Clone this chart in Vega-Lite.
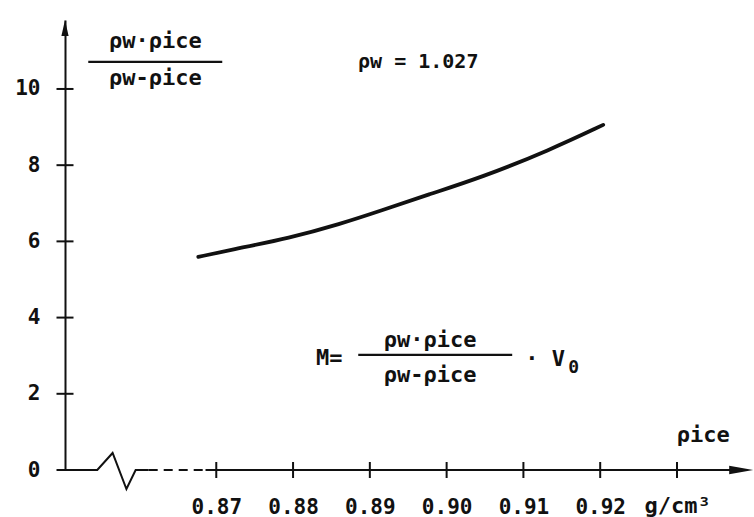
{
  "$schema": "https://vega.github.io/schema/vega-lite/v6.json",
  "width": 688,
  "height": 450,
  "autosize": {"type": "none"},
  "padding": {"left": 65, "top": 20, "right": 1, "bottom": 47},
  "background": "white",
  "config": {"view": {"stroke": null}, "font": "DejaVu Sans Mono"},
  "datasets": {
    "curve": [
      {"rho": 0.86766, "ratio": 5.592},
      {"rho": 0.87182, "ratio": 5.776},
      {"rho": 0.87964, "ratio": 6.091},
      {"rho": 0.88615, "ratio": 6.458},
      {"rho": 0.89135, "ratio": 6.800},
      {"rho": 0.89786, "ratio": 7.246},
      {"rho": 0.90438, "ratio": 7.666},
      {"rho": 0.91349, "ratio": 8.401},
      {"rho": 0.92039, "ratio": 9.057}
    ],
    "axisSolid": [
      {"x": 0.8503, "y": 0, "seg": "a"},
      {"x": 0.8545, "y": 0, "seg": "a"},
      {"x": 0.8565, "y": 0.447, "seg": "a"},
      {"x": 0.8583, "y": -0.5, "seg": "a"},
      {"x": 0.8595, "y": 0, "seg": "a"},
      {"x": 0.8612, "y": 0, "seg": "a"},
      {"x": 0.8686, "y": 0, "seg": "b"},
      {"x": 0.9385, "y": 0, "seg": "b"}
    ],
    "axisDash": [
      {"x": 0.8612, "y": 0},
      {"x": 0.8686, "y": 0}
    ],
    "xticks": [
      {"v": 0.87}, {"v": 0.88}, {"v": 0.89}, {"v": 0.90}, {"v": 0.91}, {"v": 0.92}, {"v": 0.93}
    ],
    "yticks": [
      {"v": 0}, {"v": 2}, {"v": 4}, {"v": 6}, {"v": 8}, {"v": 10}
    ]
  },
  "layer": [
    {
      "data": {"name": "curve"},
      "mark": {"type": "line", "interpolate": "basis", "color": "#111", "strokeWidth": 3.8, "strokeCap": "round"},
      "encoding": {
        "x": {
          "field": "rho", "type": "quantitative",
          "scale": {"domain": [0.8503, 0.9399], "nice": false, "zero": false},
          "axis": {
            "values": [0.87, 0.88, 0.89, 0.90, 0.91, 0.92],
            "format": ".2f",
            "domain": false, "ticks": false, "grid": false, "title": null,
            "labelFont": "DejaVu Sans Mono", "labelFontSize": 21, "labelFontWeight": "bold", "labelColor": "#111",
            "labelPadding": 26, "labelFlush": false
          }
        },
        "y": {
          "field": "ratio", "type": "quantitative",
          "scale": {"domain": [0, 11.81], "nice": false, "zero": false},
          "axis": {
            "values": [0, 2, 4, 6, 8, 10],
            "domain": true, "domainColor": "#111", "domainWidth": 2,
            "ticks": false, "grid": false, "title": null,
            "labelFont": "DejaVu Sans Mono", "labelFontSize": 21, "labelFontWeight": "bold", "labelColor": "#111",
            "labelPadding": 25, "labelFlush": false
          }
        }
      }
    },
    {
      "data": {"name": "axisSolid"},
      "mark": {"type": "line", "color": "#111", "strokeWidth": 2},
      "encoding": {
        "x": {"field": "x", "type": "quantitative"},
        "y": {"field": "y", "type": "quantitative"},
        "detail": {"field": "seg"}
      }
    },
    {
      "data": {"name": "axisDash"},
      "mark": {"type": "line", "color": "#111", "strokeWidth": 2, "strokeDash": [9, 6]},
      "encoding": {
        "x": {"field": "x", "type": "quantitative"},
        "y": {"field": "y", "type": "quantitative"}
      }
    },
    {
      "data": {"name": "xticks"},
      "mark": {"type": "tick", "orient": "vertical", "size": 16, "thickness": 2, "color": "#111", "opacity": 1},
      "encoding": {
        "x": {"field": "v", "type": "quantitative"},
        "y": {"datum": 0, "type": "quantitative"}
      }
    },
    {
      "data": {"name": "yticks"},
      "mark": {"type": "tick", "orient": "horizontal", "size": 17, "thickness": 2, "color": "#111", "opacity": 1},
      "encoding": {
        "y": {"field": "v", "type": "quantitative"},
        "x": {"datum": 0.8503, "type": "quantitative"}
      }
    },
    {
      "data": {"values": [{"x": 0.93836, "y": 0}]},
      "mark": {"type": "point", "shape": "M1,0L-1,-0.35L-1,0.35Z", "size": 576, "filled": true, "color": "#111", "opacity": 1},
      "encoding": {
        "x": {"field": "x", "type": "quantitative"},
        "y": {"field": "y", "type": "quantitative"}
      }
    },
    {
      "data": {"values": [{"x": 0.8503, "y": 11.60}]},
      "mark": {"type": "point", "shape": "M0,-1L0.45,1L-0.45,1Z", "size": 256, "filled": true, "color": "#111", "opacity": 1},
      "encoding": {
        "x": {"field": "x", "type": "quantitative"},
        "y": {"field": "y", "type": "quantitative"}
      }
    },
    {
      "data": {"values": [
        {"x1": 0.85333, "x2": 0.87078, "y": 10.71},
        {"x1": 0.88849, "x2": 0.90854, "y": 3.019}
      ]},
      "mark": {"type": "rule", "color": "#111", "strokeWidth": 2.2},
      "encoding": {
        "x": {"field": "x1", "type": "quantitative"},
        "x2": {"field": "x2"},
        "y": {"field": "y", "type": "quantitative"}
      }
    },
    {
      "data": {"values": [
        {"x": 0.86206, "y": 11.08, "label": "ρw·ρice"},
        {"x": 0.86206, "y": 10.108, "label": "ρw-ρice"},
        {"x": 0.89786, "y": 3.229, "label": "ρw·ρice"},
        {"x": 0.89786, "y": 2.310, "label": "ρw-ρice"},
        {"x": 0.93341, "y": 0.735, "label": "ρice"}
      ]},
      "mark": {"type": "text", "font": "DejaVu Sans Mono", "fontSize": 22, "fontWeight": "bold", "align": "center", "baseline": "alphabetic", "color": "#111"},
      "encoding": {
        "x": {"field": "x", "type": "quantitative"},
        "y": {"field": "y", "type": "quantitative"},
        "text": {"field": "label"}
      }
    },
    {
      "data": {"values": [
        {"x": 0.89630, "y": 10.554, "label": "ρw = 1.027"}
      ]},
      "mark": {"type": "text", "font": "DejaVu Sans Mono", "fontSize": 20, "fontWeight": "bold", "align": "center", "baseline": "alphabetic", "color": "#111"},
      "encoding": {
        "x": {"field": "x", "type": "quantitative"},
        "y": {"field": "y", "type": "quantitative"},
        "text": {"field": "label"}
      }
    },
    {
      "data": {"values": [
        {"x": 0.88300, "y": 2.757, "label": "M="},
        {"x": 0.91023, "y": 2.730, "label": "· V"},
        {"x": 0.92578, "y": -1.122, "label": "g/cm³"}
      ]},
      "mark": {"type": "text", "font": "DejaVu Sans Mono", "fontSize": 22, "fontWeight": "bold", "align": "left", "baseline": "alphabetic", "color": "#111"},
      "encoding": {
        "x": {"field": "x", "type": "quantitative"},
        "y": {"field": "y", "type": "quantitative"},
        "text": {"field": "label"}
      }
    },
    {
      "data": {"values": [
        {"x": 0.91583, "y": 2.547, "label": "0"}
      ]},
      "mark": {"type": "text", "font": "DejaVu Sans Mono", "fontSize": 18, "fontWeight": "bold", "align": "left", "baseline": "alphabetic", "color": "#111"},
      "encoding": {
        "x": {"field": "x", "type": "quantitative"},
        "y": {"field": "y", "type": "quantitative"},
        "text": {"field": "label"}
      }
    }
  ]
}
